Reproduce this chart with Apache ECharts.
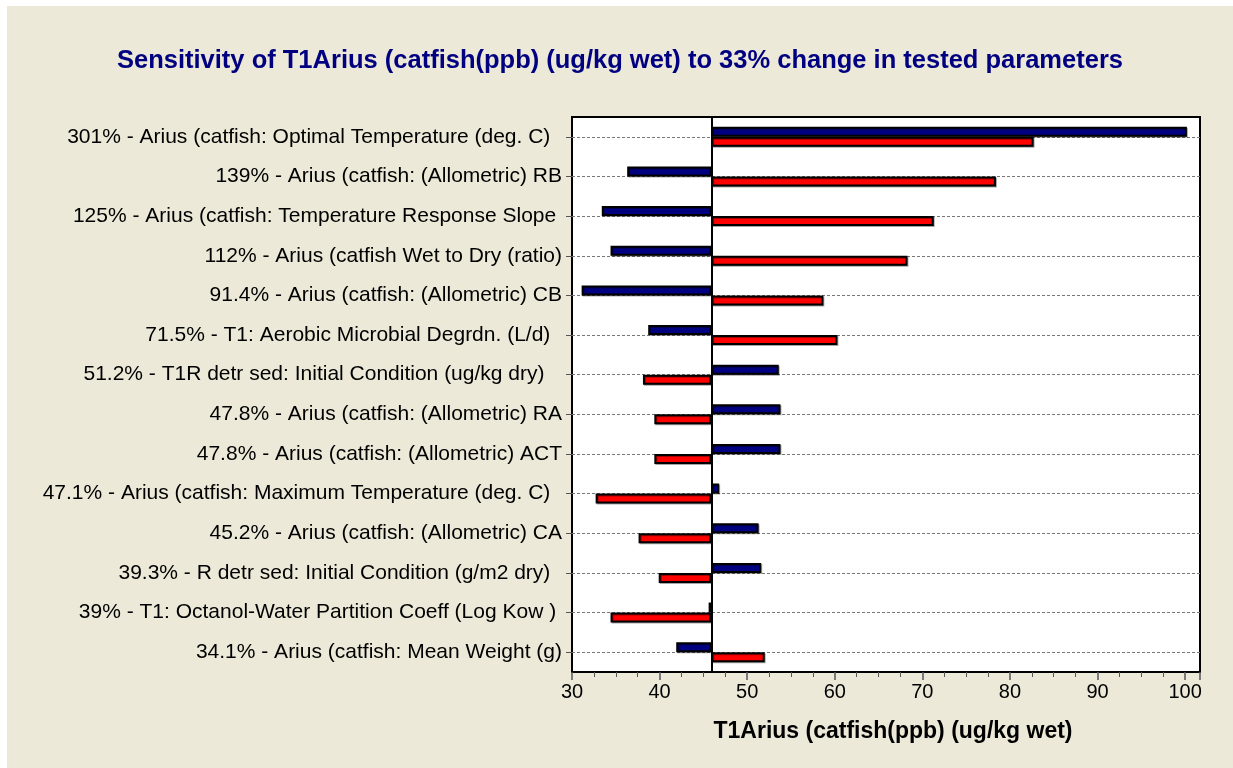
<!DOCTYPE html>
<html>
<head>
<meta charset="utf-8">
<title>Sensitivity tornado</title>
<script src="https://cdn.jsdelivr.net/npm/echarts@6/dist/echarts.min.js"></script>
<style>
  html, body { margin: 0; padding: 0; background: #fff; }
  #chart { position: absolute; left: 7px; top: 6px; width: 1226px; height: 762px; }
</style>
</head>
<body>
<div id="chart"></div>
<script>
// value of the output at the base case, bars grow from here
var BASELINE = 45.9;

var categories = [
    '301% - Arius (catfish: Optimal Temperature (deg. C)  ',
    '139% - Arius (catfish: (Allometric) RB',
    '125% - Arius (catfish: Temperature Response Slope ',
    '112% - Arius (catfish Wet to Dry (ratio)',
    '91.4% - Arius (catfish: (Allometric) CB',
    '71.5% - T1: Aerobic Microbial Degrdn. (L/d)  ',
    '51.2% - T1R detr sed: Initial Condition (ug/kg dry)   ',
    '47.8% - Arius (catfish: (Allometric) RA',
    '47.8% - Arius (catfish: (Allometric) ACT',
    '47.1% - Arius (catfish: Maximum Temperature (deg. C)  ',
    '45.2% - Arius (catfish: (Allometric) CA',
    '39.3% - R detr sed: Initial Condition (g/m2 dry)  ',
    '39% - T1: Octanol-Water Partition Coeff (Log Kow ) ',
    '34.1% - Arius (catfish: Mean Weight (g)'
];
// result with the parameter changed one way (blue) and the other (red)
var blueEnd = [100.2, 36.3, 33.4, 34.4, 31.1, 38.7, 53.6, 53.8, 53.8, 46.8, 51.3, 51.6, 45.6, 41.9];
var redEnd  = [82.7, 78.4, 71.3, 68.3, 58.7, 60.3, 38.1, 39.4, 39.4, 32.7, 37.6, 39.9, 34.4, 52.0];

var xMin = 30, xMax = 101.7, xStep = 10;

function baseOf(arr) {
    return arr.map(function (v) { return Math.min(v, BASELINE); });
}
function lenOf(arr) {
    return arr.map(function (v) { return Math.abs(v - BASELINE); });
}

var font = 'Liberation Sans, Arial, sans-serif';
var chart = echarts.init(document.getElementById('chart'));

var barStyle = function (color) {
    return {
        color: color,
        borderColor: '#000',
        borderWidth: 2,
        shadowColor: 'rgba(0,0,0,0.35)',
        shadowOffsetX: 1,
        shadowOffsetY: 1
    };
};

var option = {
    backgroundColor: '#ECE9D8',
    animation: false,
    title: {
        text: 'Sensitivity of T1Arius (catfish(ppb) (ug/kg wet) to 33% change in tested parameters',
        left: 'center',
        top: 37,
        textStyle: { color: '#000080', fontSize: 25.5, fontWeight: 'bold', fontFamily: font }
    },
    grid: {
        left: 565,
        right: 33,
        top: 111,
        bottom: 96,
        show: true,
        backgroundColor: '#fff',
        borderColor: '#000',
        borderWidth: 2
    },
    xAxis: {
        type: 'value',
        min: xMin,
        max: xMax,
        interval: xStep,
        name: 'T1Arius (catfish(ppb) (ug/kg wet)',
        nameLocation: 'middle',
        nameGap: 48,
        nameTextStyle: { color: '#000', fontSize: 23, fontWeight: 'bold', fontFamily: font, padding: [0, 0, 0, 14] },
        axisLine: { show: false },
        axisTick: { show: true, length: 8, lineStyle: { color: '#555', width: 1.5 } },
        minorTick: { show: true, splitNumber: 4, length: 5, lineStyle: { color: '#555', width: 1 } },
        axisLabel: { color: '#000', fontSize: 20, fontFamily: font, margin: 10, showMaxLabel: false },
        splitLine: { show: false }
    },
    yAxis: {
        type: 'category',
        data: categories,
        inverse: true,
        axisLine: { show: false },
        axisTick: { show: true, alignWithLabel: true, length: 6, lineStyle: { color: '#555' } },
        axisLabel: { color: '#000', fontSize: 21, fontFamily: font, margin: 10 },
        splitLine: { show: false }
    },
    series: [
        {
            // carries only the dashed row lines through each category centre
            name: 'rows', type: 'line', data: [], silent: true,
            markLine: {
                silent: true, symbol: 'none', z: 1,
                label: { show: false },
                lineStyle: { color: '#777', type: [3, 2], width: 1 },
                data: categories.map(function (c) { return { yAxis: c }; })
            }
        },
        {
            name: 'blueBase', type: 'bar', stack: 'blue', barWidth: 10, barGap: '0%',
            data: baseOf(blueEnd), itemStyle: { color: 'transparent' }, silent: true, z: 1
        },
        {
            name: 'blue', type: 'bar', stack: 'blue', barWidth: 10, barGap: '0%',
            data: lenOf(blueEnd), itemStyle: barStyle('#000080'), z: 2
        },
        {
            name: 'redBase', type: 'bar', stack: 'red', barWidth: 10, barGap: '0%',
            data: baseOf(redEnd), itemStyle: { color: 'transparent' }, silent: true, z: 1
        },
        {
            name: 'red', type: 'bar', stack: 'red', barWidth: 10, barGap: '0%',
            data: lenOf(redEnd), itemStyle: barStyle('#FF0000'), z: 2,
            markLine: {
                silent: true, symbol: 'none', z: 6,
                label: { show: false },
                lineStyle: { color: '#000', type: 'solid', width: 2 },
                data: [{ xAxis: BASELINE }]
            }
        }
    ]
};

chart.setOption(option);
</script>
</body>
</html>
